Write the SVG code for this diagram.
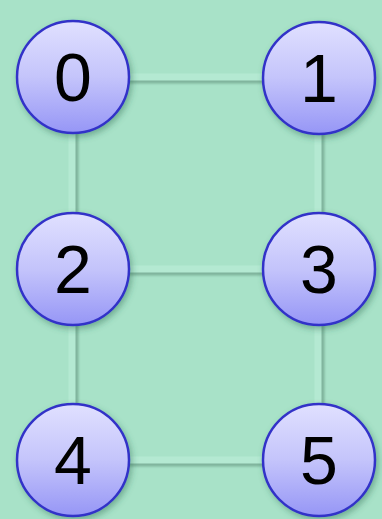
<svg xmlns="http://www.w3.org/2000/svg" width="382" height="519" viewBox="0 0 382 519">
  <defs>
    <linearGradient id="nodeFill" x1="0" y1="0" x2="0" y2="1">
      <stop offset="0" stop-color="#e0e0ff"/>
      <stop offset="0.5" stop-color="#c4c4fb"/>
      <stop offset="1" stop-color="#9696f6"/>
    </linearGradient>
    <filter id="shadow" x="-30%" y="-30%" width="160%" height="160%">
      <feGaussianBlur in="SourceAlpha" stdDeviation="3"/>
      <feOffset dx="2" dy="3" result="b"/>
      <feFlood flood-color="#2d6b50" flood-opacity="0.45"/>
      <feComposite in2="b" operator="in"/>
      <feMerge><feMergeNode/><feMergeNode in="SourceGraphic"/></feMerge>
    </filter>
    <filter id="edgeShadow" x="-10%" y="-10%" width="120%" height="120%">
      <feGaussianBlur stdDeviation="1"/>
    </filter>
  </defs>
  <style>
    .edge-shadow { stroke: #7fb39c; stroke-width: 7; fill: none; }
    .edge { stroke: #b4e9d2; stroke-width: 7; fill: none; }
    .node circle { fill: url(#nodeFill); stroke: #3333c8; stroke-width: 2.5; }
    .node text { font-family: "Liberation Sans", Arial, sans-serif; font-size: 68px; fill: #000; text-anchor: middle; }
  </style>
  <rect width="382" height="519" fill="#a8e2c8"/>
  <g id="edges">
    <g filter="url(#edgeShadow)">
      <line class="edge-shadow" x1="73" y1="80" x2="319" y2="80"/>
      <line class="edge-shadow" x1="73" y1="272" x2="319" y2="272"/>
      <line class="edge-shadow" x1="73" y1="463" x2="319" y2="463"/>
      <line class="edge-shadow" x1="75" y1="77" x2="75" y2="460"/>
      <line class="edge-shadow" x1="321" y1="77" x2="321" y2="460"/>
    </g>
    <line class="edge" x1="73" y1="77" x2="319" y2="77"/>
    <line class="edge" x1="73" y1="269" x2="319" y2="269"/>
    <line class="edge" x1="73" y1="460" x2="319" y2="460"/>
    <line class="edge" x1="72" y1="77" x2="72" y2="460"/>
    <line class="edge" x1="318" y1="77" x2="318" y2="460"/>
  </g>
  <g id="node0" class="node" filter="url(#shadow)">
    <circle cx="73" cy="77" r="56"/>
    <text x="73" y="101">0</text>
  </g>
  <g id="node1" class="node" filter="url(#shadow)">
    <circle cx="319" cy="78" r="56"/>
    <text x="319" y="102">1</text>
  </g>
  <g id="node2" class="node" filter="url(#shadow)">
    <circle cx="73" cy="269" r="56"/>
    <text x="73" y="293">2</text>
  </g>
  <g id="node3" class="node" filter="url(#shadow)">
    <circle cx="319" cy="269" r="56"/>
    <text x="319" y="293">3</text>
  </g>
  <g id="node4" class="node" filter="url(#shadow)">
    <circle cx="73" cy="460" r="56"/>
    <text x="73" y="484">4</text>
  </g>
  <g id="node5" class="node" filter="url(#shadow)">
    <circle cx="319" cy="460" r="56"/>
    <text x="319" y="484">5</text>
  </g>
</svg>
